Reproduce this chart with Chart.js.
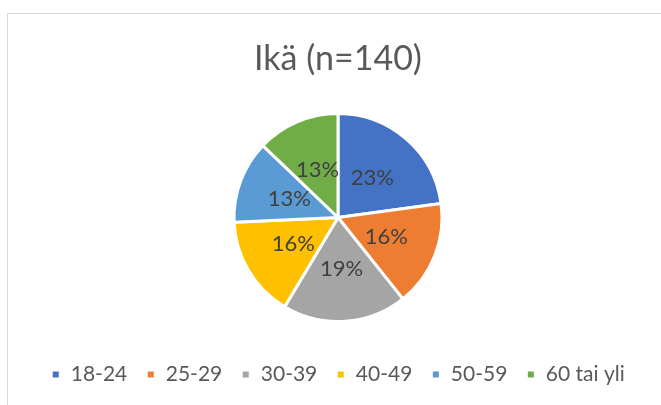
<!DOCTYPE html>
<html lang="fi">
  <head>
    <meta charset="UTF-8" />
    <title>Ikä</title>
    <style>
      html, body { margin: 0; padding: 0; background: #fff; overflow: hidden; }
      .frame {
        position: absolute; left: 7px; top: 13px;
        width: 720px; height: 460px;
        border: 1px solid #d9d9d9;
      }
      .wrap { position: absolute; left: 0; top: 0; width: 661px; height: 405px; }
    </style>
  </head>
  <body>
    <div class="frame"></div>
    <div class="wrap">
      <canvas id="myChart" width="661" height="405"></canvas>
    </div>

    <script src="https://cdn.jsdelivr.net/npm/chart.js"></script>

    <script>
      const categories = ["18-24", "25-29", "30-39", "40-49", "50-59", "60 tai yli"];
      // vastaajien määrät (n=140), luettu prosenteista
      const counts = [32, 23, 27, 22, 18, 18];
      const colors = ["#4472C4", "#ED7D31", "#A5A5A5", "#FFC000", "#5B9BD5", "#70AD47"];

      const fontName = "Lato, 'Open Sans', sans-serif";

      // prosenttiluvut siivujen sisään
      const sliceLabels = {
        id: "sliceLabels",
        afterDatasetsDraw(chart) {
          const { ctx, data } = chart;
          const values = data.datasets[0].data;
          const total = values.reduce((a, b) => a + b, 0);
          ctx.save();
          ctx.font = `22px ${fontName}`;
          ctx.fillStyle = "#404040";
          ctx.textAlign = "center";
          ctx.textBaseline = "middle";
          chart.getDatasetMeta(0).data.forEach((arc, i) => {
            const { x, y } = arc.tooltipPosition();
            ctx.fillText(Math.round((values[i] / total) * 100) + "%", x, y);
          });
          ctx.restore();
        },
      };

      const ctx = document.getElementById("myChart").getContext("2d");
      new Chart(ctx, {
        type: "pie",
        data: {
          labels: categories,
          datasets: [
            {
              data: counts,
              backgroundColor: colors,
              borderColor: "#ffffff",
              borderWidth: 3,
              radius: 104,
            },
          ],
        },
        options: {
          responsive: false,
          animation: false,
          layout: { padding: { left: 15, right: 0, top: 0, bottom: 10 } },
          plugins: {
            title: {
              display: true,
              text: "Ikä (n=140)",
              color: "#595959",
              font: { family: fontName, size: 34, weight: "normal", lineHeight: 1 },
              padding: { top: 42, bottom: 14 },
            },
            legend: {
              position: "bottom",
              labels: {
                color: "#595959",
                font: { family: fontName, size: 21 },
                boxWidth: 9,
                boxHeight: 9,
                padding: 19,
              },
            },
            tooltip: { enabled: true },
          },
        },
        plugins: [sliceLabels],
      });
    </script>
  </body>
</html>
